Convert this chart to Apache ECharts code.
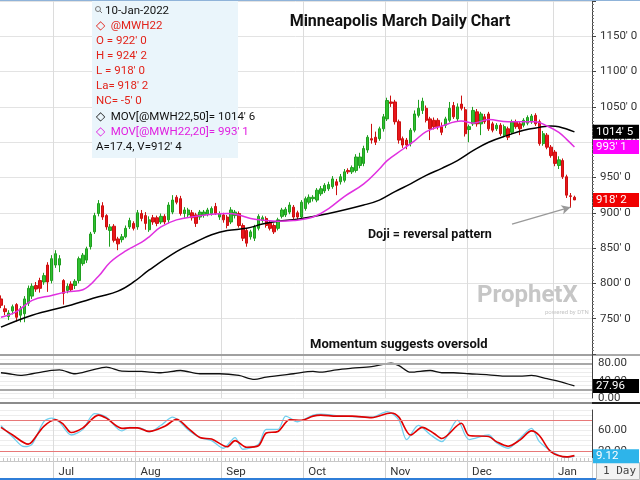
<!DOCTYPE html>
<html><head><meta charset="utf-8">
<script src="https://cdn.jsdelivr.net/npm/echarts/dist/echarts.min.js"></script>
<style>html,body{margin:0;padding:0;background:#fff}#c{width:640px;height:480px}</style>
</head><body><div id="c"></div>
<script>
// ---------- data ----------
const holidays = ['2021-07-05','2021-09-06','2021-11-25','2021-12-24'];
const firstDate = '2021-06-11';
const categoryCount = 152;
const monthNames = ['Jan','Feb','Mar','Apr','May','Jun','Jul','Aug','Sep','Oct','Nov','Dec'];

const opens = [778,764,753,761,770,755,757,772,782,797,804,802,826,804,826,826,804,790,799,797,804,828,833,852,873,899,910,896,875,881,863,862,866,880,885,880,899,896,876,893,893,887,895,890,901,922,920,899,897,900,897,894,897,898,899,909,894,897,894,887,896,899,882,875,866,864,878,889,892,886,882,878,895,897,901,908,900,894,906,915,920,918,927,931,934,937,944,944,946,960,958,960,967,970,989,1005,1007,1005,1019,1033,1057,1057,1029,1005,1003,998,1017,1038,1045,1048,1033,1031,1031,1022,1024,1031,1052,1033,1054,1046,1018,1026,1043,1026,1036,1040,1026,1019,1024,1010,1019,1014,1029,1026,1024,1027,1029,1038,1029,998,1010,993,986,967,974,951,924,922];
const highs = [783,769,762,770,772,768,782,797,800,802,808,815,830,840,847,840,806,800,803,806,838,843,852,873,900,918,915,898,884,884,866,870,882,893,888,904,904,901,895,897,896,899,898,915,925,925,924,908,907,904,900,904,904,907,909,914,902,900,897,908,904,902,885,878,876,883,898,896,895,889,885,893,907,908,915,911,903,918,923,926,925,935,938,942,944,952,948,955,962,963,967,983,985,995,1010,1026,1015,1022,1040,1063,1066,1060,1032,1008,1006,1020,1045,1060,1063,1052,1036,1035,1034,1028,1036,1057,1057,1055,1066,1050,1025,1050,1047,1043,1040,1043,1029,1027,1027,1025,1022,1032,1032,1029,1034,1038,1040,1041,1032,1016,1013,996,989,980,977,954,928,924.25];
const lows = [765,755,748,756,746,745,745,768,778,788,787,798,788,800,822,816,770,786,788,792,800,825,829,848,870,895,890,876,852,858,847,858,864,877,875,876,888,876,873,883,881,884,884,885,898,912,896,893,893,889,880,890,893,895,896,897,890,886,878,884,892,879,860,852,862,860,875,886,879,875,870,875,892,894,898,891,890,890,903,912,916,915,924,928,931,934,925,940,943,955,955,957,963,966,985,998,996,1002,1015,1030,1050,1025,998,992,990,994,1014,1035,1040,1028,1003,1018,1018,1010,1020,1028,1033,1030,1045,1008,1000,1023,1022,1010,1026,1016,1014,1016,1009,1007,1003,1011,1019,1010,1021,1024,1026,1023,995,995,990,978,966,962,948,921,907,918];
const closes = [769,760,758,767,752,764,778,793,796,792,793,811,802,835,842,835,786,796,791,803,835,840,849,870,896,913,894,880,880,861,856,866,878,889,878,900,892,885,890,887,885,895,887,911,918,915,899,904,904,893,885,901,901,904,906,899,899,890,882,904,901,882,864,857,873,880,895,893,882,878,873,890,904,905,911,894,894,915,920,922,922,932,934,939,940,948,939,951,958,958,964,979,979,991,1007,1003,1000,1019,1036,1059,1055,1029,1003,996,996,1017,1040,1048,1058,1031,1019,1022,1022,1014,1033,1048,1036,1050,1048,1012,1022,1045,1026,1040,1029,1019,1017,1024,1012,1022,1007,1029,1022,1019,1031,1035,1037,1026,998,1012,993,981,970,975,951,925,923.25,918.25];

// moving averages: [day index, value]
const ma50Pts = [[0,738],[8,755],[17,768],[25,781],[30,789],[34,802],[38,819],[45,845],[50,859],[54,869],[58,875],[63,878],[67,884],[71,888],[76,891],[84,899],[93,911],[97,918],[101,930],[105,941],[109,953],[113,963],[117,974],[121,988],[125,1000],[130,1010],[134,1017],[138,1021],[141,1023],[143,1022],[147,1014.625]];
const ma20Pts = [[0,752],[4,760],[8,776],[13,783],[17,788],[21,791],[25,810],[28,830],[32,846],[36,858],[38,866],[41,880],[45,890],[50,895],[54,898],[58,899],[61,897],[64,892],[68,889],[71,888],[75,889],[80,894],[84,906],[88,923],[93,941],[97,962],[99,974],[103,990],[106,1002],[109,1015],[113,1023],[118,1030],[121,1027],[125,1032],[130,1029],[134,1029],[137,1029],[140,1023],[143,1014],[145,1004],[147,993.125]];
const momentumPts = [[0,58.7],[2,56.4],[5,52.4],[8,56.4],[13,64],[15,65.6],[19,56.4],[23,64],[27,71.6],[31,62.4],[36,61.7],[41,58.7],[46,64],[51,56.4],[56,56.4],[61,52.4],[65,43.2],[68,48.5],[75,56.4],[80,61.7],[82,60],[86,65.6],[90,69.3],[95,73.2],[100,80.8],[102,75.5],[105,60],[110,64],[113,58.7],[116,58.7],[120,56.4],[125,54],[129,50.8],[133,50.8],[136,52.4],[140,44.8],[143,38.6],[147,27.96]];
const stochDPts = [[0,66],[3,51],[7,33],[8,38],[11,68],[14,81],[16,72],[18,56],[21,65],[25,90],[27,84],[31,64],[33,65],[35,65],[38,58],[42,68],[45,82],[48,64],[51,46],[54,43],[58,28],[60,40],[63,27],[66,30],[68,55],[71,58],[74,81],[77,80],[80,88],[82,90],[86,88],[90,88],[95,85],[100,94],[102,86],[105,51],[108,66],[111,54],[113,44],[118,74],[120,50],[125,48],[127,38],[130,29],[133,41],[136,59],[138,50],[141,18],[145,8],[147,10.5]];
const stochKPts = [[0,69],[3,47],[6,28],[8,33],[11,77],[13,84],[15,76],[18,51],[21,62],[24,93],[27,86],[31,59],[33,66],[36,64],[38,57],[41,70],[44,86],[48,61],[51,46],[54,40],[57,25],[60,46],[62,23],[66,33],[68,62],[71,62],[73,88],[76,77],[80,90],[82,92],[86,89],[90,87],[95,86],[99,97],[102,80],[104,42],[107,70],[110,52],[113,38],[117,80],[120,42],[125,51],[127,36],[130,25],[133,44],[136,64],[138,38],[142,15],[145,7],[147,9.12]];

const legendLines = [
  ['10-Jan-2022','#111'],
  ['\u25C7  @MWH22','#e2231a'],
  ["O = 922' 0",'#e2231a'],
  ["H = 924' 2",'#e2231a'],
  ["L = 918' 0",'#e2231a'],
  ["La= 918' 2",'#e2231a'],
  ["NC= -5' 0",'#e2231a'],
  ["\u25C7  MOV[@MWH22,50]= 1014' 6",'#111'],
  ["\u25C7  MOV[@MWH22,20]= 993' 1",'#e020e0'],
  ["A=17.4, V=912' 4",'#111']
];

// ---------- helpers ----------
const dates = (function(){
  const out=[]; const d=new Date(firstDate+'T00:00:00Z');
  while(out.length<categoryCount){
    const s=d.toISOString().slice(0,10), w=d.getUTCDay();
    if(w!==0&&w!==6&&holidays.indexOf(s)<0) out.push(s);
    d.setUTCDate(d.getUTCDate()+1);
  }
  return out;
})();
const isMonthStart = (i) => i>0 && dates[i].slice(5,7)!==dates[i-1].slice(5,7);
const eighths = (v) => { const f=Math.floor(v); return f + "' " + Math.round((v-f)*8); };
const candles = opens.map((o,i)=>[o,closes[i],lows[i],highs[i]]);
const last = a => a[a.length-1][1];
const FONT = 'Roboto';

function boxLabel(bg, fg, text){
  return {show:true, position:'end', distance:1, formatter:text, backgroundColor:bg, color:fg,
    padding:[1,3,0,3], width:40, height:13, lineHeight:13, fontSize:11.5, fontFamily:FONT, align:'left'};
}
function boxLine(value, bg, fg, text){
  return {yAxis:value, lineStyle:{color:'rgba(0,0,0,0)', width:0}, label:boxLabel(bg,fg,text)};
}

const G = {left:-1, right:48, containLabel:false, outerBoundsMode:'none'};
const monthSplit = {show:true, interval:(i)=>isMonthStart(i), lineStyle:{color:'#dcdcdc', width:1}};
const hiddenX = (gi) => ({type:'category', gridIndex:gi, data:dates, boundaryGap:true,
  axisLine:{show:false}, axisTick:{show:false}, axisLabel:{show:false}, splitLine:monthSplit});

const legendGraphics = [{type:'rect', shape:{x:92,y:0,width:146,height:158}, style:{fill:'#eaf5fb'}, z:10}];
legendLines.forEach((l,k)=>{
  legendGraphics.push({type:'text', x:(k===0?105:96), y:11+15.1*k, z:11,
    style:{text:l[0], fill:l[1], font:'11.5px '+FONT, textVerticalAlign:'middle'}});
});
legendGraphics.push({type:'circle', shape:{cx:98,cy:9,r:2.5}, style:{fill:'none',stroke:'#777',lineWidth:1}, z:11});
legendGraphics.push({type:'line', shape:{x1:100,y1:11,x2:102,y2:13}, style:{stroke:'#777',lineWidth:1}, z:11});

const chart = echarts.init(document.getElementById('c'), null, {renderer:'canvas'});
chart.setOption({
  animation:false,
  backgroundColor:'#fff',
  grid:[
    Object.assign({top:1, height:353}, G),
    Object.assign({top:355, height:43}, G),
    Object.assign({top:410, height:51}, G)
  ],
  xAxis:[
    hiddenX(0), hiddenX(1),
    {type:'category', gridIndex:2, data:dates, boundaryGap:true,
      axisLine:{show:true, lineStyle:{color:'#c8c8c8'}},
      axisTick:{show:true, interval:0, inside:true, length:3, lineStyle:{color:'#c8c8c8'}},
      axisLabel:{show:false}, splitLine:monthSplit},
    {type:'category', gridIndex:2, data:dates, boundaryGap:true, position:'bottom',
      axisLine:{show:false},
      axisTick:{show:true, interval:(i)=>isMonthStart(i), length:17, lineStyle:{color:'#cfcfcf'}},
      axisLabel:{show:true, interval:(i)=>isMonthStart(i), formatter:(v)=>monthNames[parseInt(v.slice(5,7),10)-1],
        align:'left', padding:[0,0,0,3], margin:5, color:'#333', fontSize:11.5, fontFamily:FONT},
      splitLine:{show:false}}
  ],
  yAxis:[
    {type:'value', gridIndex:0, position:'right', min:700, max:1200, interval:50,
      axisLine:{show:true, lineStyle:{color:'#444'}},
      axisTick:{show:true, length:4, lineStyle:{color:'#444'}},
      minorTick:{show:true, splitNumber:10, length:2, lineStyle:{color:'#777'}},
      axisLabel:{formatter:(v)=>(v>=750&&v<=1150)?(v+"' 0"):'', margin:8, color:'#333', fontSize:11.5, fontFamily:FONT},
      splitLine:{show:true, lineStyle:{color:'#e3e3e3'}}},
    {type:'value', gridIndex:1, position:'right', min:0, max:100, interval:10,
      axisLine:{show:true, lineStyle:{color:'#444'}},
      axisTick:{show:false},
      axisLabel:{formatter:(v)=>(v===0||v===40||v===80)?v.toFixed(2):'', margin:6, color:'#333', fontSize:11.5, fontFamily:FONT},
      splitLine:{show:true, lineStyle:{color:'#ececec'}}},
    {type:'value', gridIndex:2, position:'right', min:0, max:100, interval:10,
      axisLine:{show:true, lineStyle:{color:'#444'}},
      axisTick:{show:false},
      axisLabel:{formatter:(v)=>(v===20||v===60)?v.toFixed(2):'', margin:6, color:'#333', fontSize:11.5, fontFamily:FONT},
      splitLine:{show:true, lineStyle:{color:'#ededed'}}}
  ],
  series:[
    {type:'candlestick', xAxisIndex:0, yAxisIndex:0, data:candles, barWidth:'74%', clip:false,
      itemStyle:{color:'#30c030', color0:'#e8161c', borderColor:'#1f9f1f', borderColor0:'#cc0f0f', borderWidth:1},
      markLine:{symbol:'none', silent:true, animation:false, data:[
        boxLine(closes[closes.length-1], '#f00000', '#fff', eighths(closes[closes.length-1])),
        [{coord:[131,884], symbol:'none'},{coord:[146,908], symbol:'arrow', symbolSize:[7,9]}]
      ], lineStyle:{color:'#999', width:1.3, type:'solid'}, label:{show:false}}},
    {type:'line', xAxisIndex:0, yAxisIndex:0, data:ma50Pts, smooth:0.4, showSymbol:false, clip:false,
      lineStyle:{color:'#000', width:1.5},
      markLine:{symbol:'none', silent:true, data:[boxLine(last(ma50Pts), '#000', '#fff', eighths(last(ma50Pts)))]}},
    {type:'line', xAxisIndex:0, yAxisIndex:0, data:ma20Pts, smooth:0.4, showSymbol:false, clip:false,
      lineStyle:{color:'#e030e0', width:1.5},
      markLine:{symbol:'none', silent:true, data:[boxLine(last(ma20Pts), '#ff00ff', '#fff', eighths(last(ma20Pts)))]}},
    {type:'line', xAxisIndex:1, yAxisIndex:1, data:momentumPts, smooth:0.3, showSymbol:false, clip:false,
      lineStyle:{color:'#111', width:1.3},
      markLine:{symbol:'none', silent:true, label:{show:false}, lineStyle:{color:'#a8a8a8', width:2, type:'solid'},
        data:[{yAxis:80},{yAxis:20}, boxLine(last(momentumPts), '#000', '#fff', last(momentumPts).toFixed(2))]}},
    {type:'line', xAxisIndex:2, yAxisIndex:2, data:stochKPts, smooth:0.3, showSymbol:false, clip:false,
      lineStyle:{color:'#72cfee', width:1.3},
      markLine:{symbol:'none', silent:true, label:{show:false}, lineStyle:{color:'#e87878', width:1, type:'solid'},
        data:[{yAxis:80},{yAxis:20}, boxLine(last(stochKPts), '#2eb4ea', '#fff', last(stochKPts).toFixed(2))]}},
    {type:'line', xAxisIndex:2, yAxisIndex:2, data:stochDPts, smooth:0.3, showSymbol:false, clip:false,
      lineStyle:{color:'#e00000', width:1.6}}
  ],
  graphic:[
    ...legendGraphics,
    {type:'line', shape:{x1:0,y1:0.5,x2:640,y2:0.5}, style:{stroke:'#8fb3d9',lineWidth:1}, z:20},
    {type:'text', x:400, y:22, z:12, style:{text:'Minneapolis March Daily Chart', fill:'#111',
      font:'bold 16px '+FONT, textAlign:'center', textVerticalAlign:'middle'}},
    {type:'text', x:368, y:235, z:12, style:{text:'Doji = reversal pattern', fill:'#111',
      font:'bold 12.5px '+FONT, textVerticalAlign:'middle'}},
    {type:'text', x:310, y:345, z:12, style:{text:'Momentum suggests oversold', fill:'#111',
      font:'bold 13px '+FONT, textVerticalAlign:'middle'}},
    {type:'text', x:477, y:296, z:1, style:{text:'ProphetX', fill:'#c6c6c6',
      font:'bold 24px '+FONT, textVerticalAlign:'middle'}},
    {type:'text', x:545, y:312, z:1, style:{text:'powered by DTN', fill:'#c6c6c6',
      font:'6px '+FONT, textVerticalAlign:'middle'}},
    {type:'line', shape:{x1:0,y1:355,x2:592,y2:355}, style:{stroke:'#a0a0a0',lineWidth:2}, z:5},
    {type:'line', shape:{x1:0,y1:403,x2:592,y2:403}, style:{stroke:'#8c8c8c',lineWidth:2}, z:5},
    {type:'line', shape:{x1:592,y1:403,x2:640,y2:403}, style:{stroke:'#222',lineWidth:2}, z:5},
    {type:'line', shape:{x1:592,y1:355,x2:640,y2:355}, style:{stroke:'#555',lineWidth:1}, z:5},
    {type:'rect', shape:{x:0,y:478,width:596,height:2}, style:{fill:'#2f7ed8'}, z:5},
    {type:'rect', shape:{x:596.5,y:462.5,width:43,height:17}, style:{fill:'#f3f3f3',stroke:'#bbb',lineWidth:1}, z:5},
    {type:'text', x:603, y:471, z:6, style:{text:'1 Day', fill:'#444', font:'11px "DejaVu Sans Mono"', textVerticalAlign:'middle'}}
  ]
});
</script></body></html>
